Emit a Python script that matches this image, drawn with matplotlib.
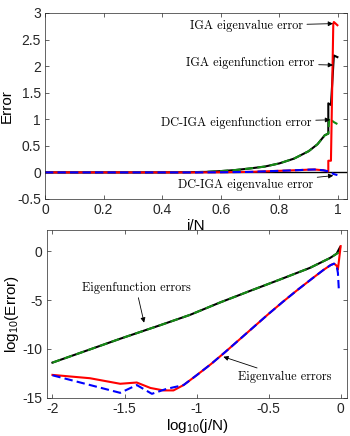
import matplotlib
matplotlib.use("Agg")
import matplotlib.pyplot as plt

# top panel: errors vs j/N
jn_fun = [0, 0.1, 0.2, 0.3, 0.4, 0.5, 0.55, 0.6, 0.65, 0.7, 0.75, 0.8, 0.85, 0.9, 0.93, 0.955, 0.967]
fun_base = [0, 0, 0, 0, 0, 0.005, 0.01, 0.025, 0.045, 0.075, 0.11, 0.17, 0.26, 0.40, 0.53, 0.70, 0.73]
jn_iga_fun_tail = [0.967, 0.976, 0.986, 0.998]
iga_fun_tail = [1.30, 1.27, 2.20, 2.17]
jn_dc_fun_tail = [0.97, 0.985, 0.998]
dc_fun_tail = [1.02, 0.95, 0.91]

jn_val = [0, 0.1, 0.2, 0.3, 0.4, 0.5, 0.6, 0.7, 0.8, 0.86, 0.9, 0.92, 0.95, 0.967]
val_base = [0, 0, 0, 0, 0, 0, 0.003, 0.01, 0.03, 0.042, 0.052, 0.055, 0.04, 0.02]
jn_iga_val_tail = [0.967, 0.976, 0.984, 0.986, 0.998]
iga_val_tail = [0.22, 0.22, 2.80, 2.83, 2.77]
jn_dc_val_tail = [0.985, 0.998]
dc_val_tail = [-0.03, -0.05]

# bottom panel: log10 errors vs log10(j/N)
lx_fun = [-2, -1.75, -1.53, -1.25, -1.045, -0.837, -0.63, -0.42, -0.213, -0.074, -0.028]
l_fun = [-11.4, -10.1, -8.95, -7.55, -6.5, -5.23, -4.05, -2.87, -1.68, -0.67, -0.23]
lx_iga_fun_end = -0.005
l_iga_fun_end = 0.42
lx_dc_fun_end = -0.012
l_dc_fun_end = -0.12

lx_val_common = [-1.09, -1.0, -0.9, -0.8, -0.7, -0.6, -0.5, -0.4, -0.3, -0.2, -0.12,
                 -0.07, -0.046, -0.028]
l_val_common = [-13.7, -12.7, -11.55, -10.3, -9.0, -7.7, -6.4, -5.15, -3.95, -2.8, -1.9,
                -1.4, -1.25, -1.45]
lx_iga_val_low = [-2, -1.74, -1.53, -1.415, -1.32, -1.23, -1.16]
l_iga_val_low = [-12.66, -13.0, -13.57, -13.44, -14.0, -14.25, -14.25]
lx_iga_val_end = [-0.019, 0]
l_iga_val_end = [-1.85, 0.55]
lx_dc_val_low = [-2, -1.53, -1.415, -1.31, -1.21]
l_dc_val_low = [-12.7, -14.5, -13.7, -14.6, -14.1]
lx_dc_val_end = [-0.019, -0.012]
l_dc_val_end = [-2.2, -4.05]

plt.rcParams["font.family"] = ["Liberation Sans", "DejaVu Sans"]
plt.rcParams["axes.unicode_minus"] = False
plt.rcParams["mathtext.fontset"] = "custom"
plt.rcParams["mathtext.rm"] = "Liberation Sans"
plt.rcParams["mathtext.it"] = "Liberation Sans:italic"
SERIF = ["cmr10", "DejaVu Serif"]
RED, BLUE, GREEN = "#ff0000", "#0000ff", "#168c16"
DASH = (0, (4, 2))
arrow = dict(arrowstyle="-|>", color="k", lw=0.6, mutation_scale=7, shrinkA=1, shrinkB=0)

fig = plt.figure(figsize=(3.5, 4.36), dpi=100)
ax1 = fig.add_axes([0.1286, 0.5436, 0.863, 0.4266])
ax2 = fig.add_axes([0.1334, 0.0878, 0.858, 0.3846])

for ax in (ax1, ax2):
    ax.tick_params(direction="in", top=True, right=True, length=3, width=0.5,
                   labelsize=10, colors="#262626", pad=3)
    for s in ax.spines.values():
        s.set_linewidth(0.5)
        s.set_color("#262626")

# top
ax1.axhline(0, color="k", lw=1.0)
ax1.plot(jn_fun + jn_iga_fun_tail, fun_base + iga_fun_tail, color="k", lw=1.5)
ax1.plot(jn_fun + jn_dc_fun_tail, fun_base + dc_fun_tail, color=GREEN, lw=1.5, ls=DASH)
ax1.plot(jn_val + jn_iga_val_tail, val_base + iga_val_tail, color=RED, lw=1.5)
ax1.plot(jn_val + jn_dc_val_tail, val_base + dc_val_tail, color=BLUE, lw=1.5, ls=DASH)
ax1.set_xlim(0, 1.031)
ax1.set_ylim(-0.5, 3)
ax1.set_xticks([0, 0.2, 0.4, 0.6, 0.8, 1])
ax1.set_xticklabels(["0", "0.2", "0.4", "0.6", "0.8", "1"])
ax1.set_yticks([-0.5, 0, 0.5, 1, 1.5, 2, 2.5, 3])
ax1.set_yticklabels(["-0.5", "0", "0.5", "1", "1.5", "2", "2.5", "3"])
ax1.set_ylabel("Error", fontsize=11, labelpad=2)
ax1.set_xlabel("j/N", fontsize=11, labelpad=1)

tkw = dict(family=SERIF, fontsize=8.8, ha="right", va="center")
ax1.annotate("IGA eigenvalue error", xy=(0.983, 2.8), xytext=(0.88, 2.76), arrowprops=arrow, **tkw)
ax1.annotate("IGA eigenfunction error", xy=(0.983, 2.02), xytext=(0.92, 2.06), arrowprops=arrow, **tkw)
ax1.annotate("DC-IGA eigenfunction error", xy=(0.973, 0.99), xytext=(0.91, 0.94), arrowprops=arrow, **tkw)
ax1.annotate("DC-IGA eigenvalue error", xy=(0.984, -0.06), xytext=(0.915, -0.23), arrowprops=arrow, **tkw)

# bottom
ax2.plot(lx_fun + [lx_iga_fun_end], l_fun + [l_iga_fun_end], color="k", lw=1.5)
ax2.plot(lx_fun + [lx_dc_fun_end], l_fun + [l_dc_fun_end], color=GREEN, lw=1.5, ls=DASH)
ax2.plot(lx_iga_val_low + lx_val_common + lx_iga_val_end,
         l_iga_val_low + l_val_common + l_iga_val_end, color=RED, lw=1.5)
ax2.plot(lx_dc_val_low + lx_val_common + lx_dc_val_end,
         l_dc_val_low + l_val_common + l_dc_val_end, color=BLUE, lw=1.5, ls=DASH)
ax2.set_xlim(-2.04, 0.044)
ax2.set_ylim(-15, 2.2)
ax2.set_xticks([-2, -1.5, -1, -0.5, 0])
ax2.set_xticklabels(["-2", "-1.5", "-1", "-0.5", "0"])
ax2.set_yticks([-15, -10, -5, 0])
ax2.set_yticklabels(["-15", "-10", "-5", "0"])
ax2.set_ylabel("log$_{10}$(Error)", fontsize=11, labelpad=1)
ax2.set_xlabel("log$_{10}$(j/N)", fontsize=11, labelpad=1)

ckw = dict(family=SERIF, fontsize=8.8, ha="center", va="center")
ax2.annotate("Eigenfunction errors", xy=(-1.364, -7.3), xytext=(-1.42, -3.7), arrowprops=arrow, **ckw)
ax2.annotate("Eigenvalue errors", xy=(-0.814, -10.8), xytext=(-0.386, -12.9), arrowprops=arrow, **ckw)

fig.savefig("out.png", dpi=100)
